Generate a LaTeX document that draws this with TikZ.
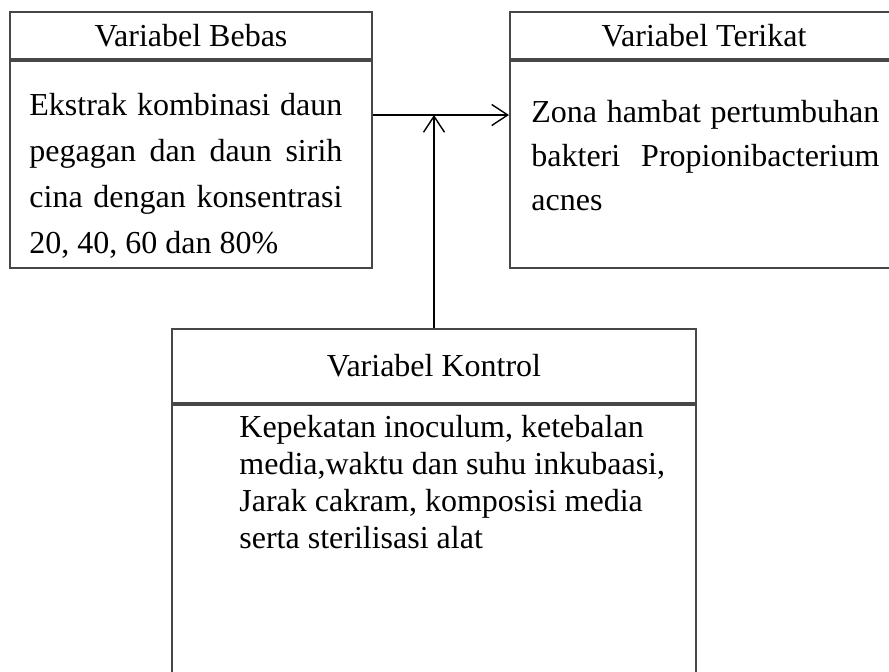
\documentclass[tikz,border=0pt]{standalone}
\usepackage{fontspec}
\setmainfont{Liberation Serif}
\usetikzlibrary{arrows.meta,positioning}
\hyphenpenalty=10000
\exhyphenpenalty=10000
\tikzset{
	kotak/.style={draw=black!72, line width=1pt, inner sep=0pt},
	teks/.style={inner sep=0pt, anchor=north west, font=\fontsize{16}{22}\selectfont},
	panah/.style={-{Straight Barb[length=8pt,width=10.5pt]}, line width=0.7pt}
}
\begin{document}
\begin{tikzpicture}[x=0.5pt, y=-0.5pt, font=\fontsize{16}{18.5}\selectfont]
				\useasboundingbox (0,0) rectangle (889,671);
				\clip (0,0) rectangle (889,671);
				% variabel bebas
				\node[kotak, minimum width=181pt, minimum height=23.5pt] (judulbebas) at (191,35.5) {Variabel Bebas};
				\node[kotak, minimum width=181pt, minimum height=103.5pt, below=0pt of judulbebas] (kotakbebas) {};
				\node[teks, text width=156.5pt, align=justify, font=\fontsize{16}{23}\selectfont] (isibebas) at ([xshift=10pt,yshift=-16.5pt]kotakbebas.north west) {Ekstrak kombinasi daun pegagan dan daun sirih cina dengan konsentrasi 20, 40, 60 dan 80\%};
				% variabel terikat
				\node[kotak, minimum width=194pt, minimum height=23.5pt] (judulterikat) at (704,35.5) {Variabel Terikat};
				\node[kotak, minimum width=194pt, minimum height=103.5pt, below=0pt of judulterikat] (kotakterikat) {};
				\node[teks, text width=174pt, align=justify] (isiterikat) at ([xshift=11pt,yshift=-20pt]kotakterikat.north west) {Zona hambat pertumbuhan bakteri Propionibacterium acnes};
				% variabel kontrol
				\node[kotak, minimum width=262pt, minimum height=37pt] (judulkontrol) at (434,366) {Variabel Kontrol};
				\node[kotak, minimum width=262pt, minimum height=148.5pt, below=0pt of judulkontrol] (kotakkontrol) {};
				\node[teks, font=\fontsize{16}{18.5}\selectfont, align=left] (isikontrol) at ([xshift=34pt,yshift=-5.5pt]kotakkontrol.north west) {Kepekatan inoculum, ketebalan\\media,waktu dan suhu inkubaasi,\\Jarak cakram, komposisi media\\serta sterilisasi alat};
				\coordinate (cabang) at ([yshift=-27.5pt]kotakbebas.north east);
				\draw[panah] (cabang) -- (cabang -| kotakterikat.west);
				\draw[panah] (judulkontrol.north) -- (judulkontrol.north |- cabang);
			\end{tikzpicture}
\end{document}
